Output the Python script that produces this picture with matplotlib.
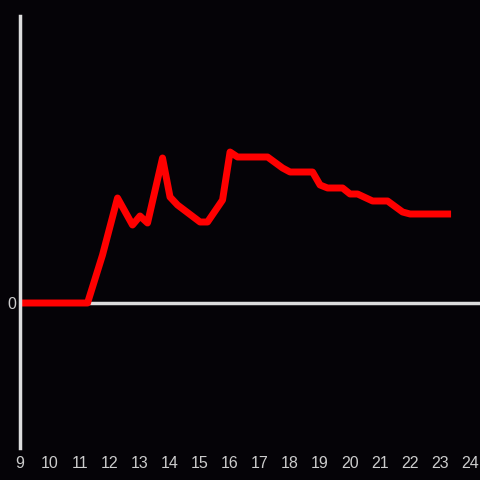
import matplotlib.pyplot as plt

hours = [9, 11.25, 11.75, 12.25, 12.75, 13.0, 13.25, 13.75, 14.0, 14.25, 15.0,
         15.25, 15.75, 16.0, 16.25, 17.25, 17.75, 18.0, 18.75, 19.0, 19.25,
         19.75, 20.0, 20.25, 20.75, 21.25, 21.75, 22.0, 23.25]
values = [0, 0, 48, 105, 78, 87, 80, 145, 106, 98, 81,
          81, 103, 151, 146, 146, 135, 131, 131, 118, 115,
          115, 109, 109, 102, 102, 91, 89, 89]
xticks = list(range(9, 25))

plt.rcParams['font.family'] = ['Liberation Sans', 'DejaVu Sans']

bg = '#050307'
fig = plt.figure(figsize=(4.8, 4.8), dpi=100, facecolor=bg)
ax = fig.add_axes([20 / 480, 32 / 480, 460 / 480, 432 / 480], facecolor=bg)

ax.axhline(0, color='#dddddd', lw=2.5, zorder=1)
ax.plot(hours, values, color='#ff0000', lw=5, solid_joinstyle='round',
        solid_capstyle='projecting', zorder=2)

ax.set_xlim(9, 24.33)
ax.set_ylim(-145, 287)
ax.set_xticks(xticks)
ax.set_yticks([0])
ax.tick_params(length=0, colors='#cccccc', labelsize=11.5, pad=6)
ax.tick_params(axis='y', pad=3)

for s in ['top', 'right', 'bottom']:
    ax.spines[s].set_visible(False)
ax.spines['left'].set_color('#dddddd')
ax.spines['left'].set_linewidth(2.5)

fig.savefig('out.png', facecolor=bg)
